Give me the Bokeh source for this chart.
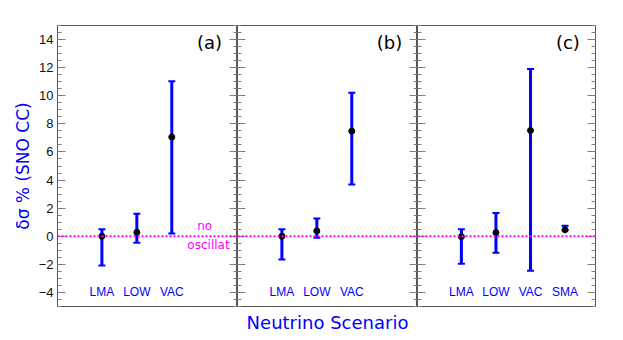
import numpy as np
from bokeh.plotting import figure
from bokeh.layouts import row
from bokeh.models import (Range1d, FixedTicker, LinearAxis, Span, Whisker,
                          ColumnDataSource, CustomJSTickFormatter, TeeHead, Label)
from bokeh.embed import file_html
from bokeh.resources import INLINE
from bokeh.core.properties import value

# ---------------- data ----------------
panel_names = ["(a)", "(b)", "(c)"]
scen_a = ["LMA", "LOW", "VAC"]
scen_b = ["LMA", "LOW", "VAC"]
scen_c = ["LMA", "LOW", "VAC", "SMA"]

a_center = [0.0, 0.28, 7.06]
a_upper = [0.5, 1.6, 11.03]
a_lower = [-2.08, -0.47, 0.19]

b_center = [0.0, 0.38, 7.48]
b_upper = [0.5, 1.27, 10.22]
b_lower = [-1.65, -0.1, 3.68]

c_center = [-0.03, 0.26, 7.53, 0.46]
c_upper = [0.5, 1.65, 11.9, 0.75]
c_lower = [-1.96, -1.18, -2.45, 0.42]

y_major = [-4, -2, 0, 2, 4, 6, 8, 10, 12, 14]
y_minor_step = 0.5
x_title = "Neutrino Scenario"
y_title = "δσ % (SNO CC)"

# ---------------- style ----------------
BLUE = "#0000ff"
MAG = "#ff00ff"
AXC = "#555555"
TICKC = "#808080"
FH = 281
TOP = 25
BOTTOM = 26

minor = list(np.arange(-5, 15.001, y_minor_step))
minus_fmt = CustomJSTickFormatter(code="return tick < 0 ? '\\u2212' + Math.abs(tick) : '' + tick;")
empty_fmt = CustomJSTickFormatter(code="return '';")


def yaxis(labels, title=None):
    ax = LinearAxis(ticker=FixedTicker(ticks=y_major, minor_ticks=minor),
                    major_tick_in=8, major_tick_out=0,
                    minor_tick_in=4, minor_tick_out=0,
                    major_tick_line_color=TICKC, minor_tick_line_color=TICKC,
                    axis_line_color=AXC)
    if labels:
        ax.formatter = minus_fmt
        ax.major_label_standoff = 4
        ax.major_label_text_font = "Liberation Sans"
        ax.major_label_text_font_size = "13px"
        ax.major_label_text_color = "#111111"
    else:
        ax.formatter = empty_fmt
        ax.major_label_standoff = 0
        ax.major_label_text_font_size = "0px"
    if title:
        ax.axis_label = title
        ax.axis_label_text_color = BLUE
        ax.axis_label_text_font = "DejaVu Sans"
        ax.axis_label_text_font_size = "17px"
        ax.axis_label_text_font_style = "normal"
        ax.axis_label_standoff = 3
    return ax


def panel(idx, names, center, upper, lower, fw, bl, br, xlabel=None, note=False):
    p = figure(frame_width=fw, frame_height=FH,
               x_range=Range1d(-0.27, 4.88), y_range=Range1d(-5, 15),
               x_axis_location=None, y_axis_location=None,
               output_backend="svg", toolbar_location=None,
               min_border_left=bl, min_border_right=br,
               min_border_top=TOP, min_border_bottom=BOTTOM,
               outline_line_color=AXC, outline_line_width=1)
    p.grid.visible = False
    p.add_layout(yaxis(idx == 0, y_title if idx == 0 else None), "left")
    p.add_layout(yaxis(False), "right")
    if xlabel:
        xa = LinearAxis(ticker=FixedTicker(ticks=[]), major_tick_out=0, major_tick_in=0,
                        minor_tick_out=0, minor_tick_in=0, axis_line_color=AXC,
                        major_label_text_font_size="0px", major_label_standoff=0,
                        axis_label=xlabel, axis_label_text_color=BLUE,
                        axis_label_text_font="DejaVu Sans",
                        axis_label_text_font_size="18px",
                        axis_label_text_font_style="normal",
                        axis_label_standoff=5)
        p.add_layout(xa, "below")

    xs = list(range(1, len(names) + 1))
    src = ColumnDataSource(dict(x=xs, c=center, u=upper, l=lower, name=names))

    p.add_layout(Span(location=0, dimension="width", line_color=MAG,
                      line_dash="2 2", line_width=2))

    w = Whisker(base="x", upper="u", lower="l", source=src,
                line_color=BLUE, line_width=3,
                upper_head=TeeHead(size=7, line_color=BLUE, line_width=2),
                lower_head=TeeHead(size=7, line_color=BLUE, line_width=2))
    p.add_layout(w)
    p.scatter("x", "c", source=src, size=6, color="black")

    p.text(x="x", y=-3.94, text="name", source=src, text_align="center",
           text_baseline="middle", text_color=BLUE,
           text_font=value("Liberation Sans"), text_font_size="12px")

    p.add_layout(Label(x=4.08, y=13.8, text=panel_names[idx], text_align="center",
                       text_baseline="middle", text_font="DejaVu Sans",
                       text_font_size="18px", text_color="black"))
    if note:
        p.add_layout(Label(x=3.94, y=0.71, text="no", text_align="center",
                           text_baseline="middle", text_font="DejaVu Sans",
                           text_font_size="12px", text_color=MAG))
        p.add_layout(Label(x=4.05, y=-0.59, text="oscillat", text_align="center",
                           text_baseline="middle", text_font="DejaVu Sans",
                           text_font_size="12px", text_color=MAG))
    return p


p1 = panel(0, scen_a, a_center, a_upper, a_lower, 180, 57, 0, note=True)
p2 = panel(1, scen_b, b_center, b_upper, b_lower, 180, 0, 0, xlabel=x_title)
p3 = panel(2, scen_c, c_center, c_upper, c_lower, 178, 0, 16)

layout = row(p1, p2, p3)
open("out.html", "w").write(file_html(layout, INLINE))
